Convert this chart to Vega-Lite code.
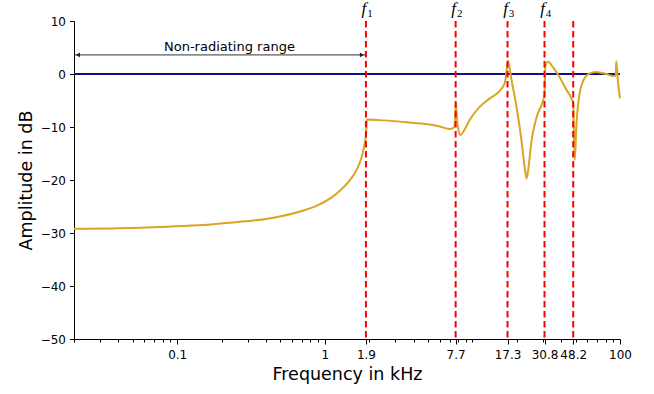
{
  "$schema": "https://vega.github.io/schema/vega-lite/v6.json",
  "autosize": {"type": "none"},
  "width": 546,
  "height": 318,
  "padding": {"left": 74, "top": 21, "right": 34, "bottom": 55},
  "background": "white",
  "config": {
    "view": {"stroke": null},
    "font": "DejaVu Sans",
    "axis": {"grid": false, "domainColor": "black", "tickColor": "black", "labelColor": "black", "titleColor": "black", "labelFont": "DejaVu Sans", "titleFont": "DejaVu Sans", "titleFontWeight": "normal", "labelFontSize": 12, "titleFontSize": 17.5}
  },
  "datasets": {
    "one": [{}],
    "curve": [
      {"f": 0.02, "amp": -29.2},
      {"f": 0.04, "amp": -29.1},
      {"f": 0.086, "amp": -28.8},
      {"f": 0.15, "amp": -28.5},
      {"f": 0.24, "amp": -28.0},
      {"f": 0.41, "amp": -27.3},
      {"f": 0.69, "amp": -25.9},
      {"f": 0.89, "amp": -24.8},
      {"f": 1.15, "amp": -23.0},
      {"f": 1.42, "amp": -20.6},
      {"f": 1.65, "amp": -18.0},
      {"f": 1.78, "amp": -15.6},
      {"f": 1.86, "amp": -13.2},
      {"f": 1.91, "amp": -10.8},
      {"f": 1.93, "amp": -8.6},
      {"f": 2.5, "amp": -8.75},
      {"f": 3.6, "amp": -9.1},
      {"f": 5.0, "amp": -9.5},
      {"f": 6.0, "amp": -9.9},
      {"f": 7.06, "amp": -10.4},
      {"f": 7.5, "amp": -10.1},
      {"f": 7.65, "amp": -8.0},
      {"f": 7.72, "amp": -5.4},
      {"f": 7.85, "amp": -8.0},
      {"f": 8.05, "amp": -10.6},
      {"f": 8.33, "amp": -11.5},
      {"f": 8.8, "amp": -10.6},
      {"f": 9.63, "amp": -8.6},
      {"f": 11.2, "amp": -6.2},
      {"f": 13.1, "amp": -4.6},
      {"f": 15.4, "amp": -3.1},
      {"f": 16.6, "amp": -1.6},
      {"f": 17.0, "amp": 0.2},
      {"f": 17.4, "amp": 2.5},
      {"f": 18.4, "amp": -1.1},
      {"f": 19.9, "amp": -6.2},
      {"f": 21.5, "amp": -12.5},
      {"f": 22.6, "amp": -17.6},
      {"f": 23.3, "amp": -19.7},
      {"f": 24.0, "amp": -17.6},
      {"f": 25.1, "amp": -12.8},
      {"f": 27.2, "amp": -8.2},
      {"f": 30.1, "amp": -5.0},
      {"f": 30.8, "amp": -3.8},
      {"f": 31.2, "amp": 1.3},
      {"f": 32.5, "amp": 2.3},
      {"f": 35.5, "amp": 1.1},
      {"f": 39.0, "amp": -0.6},
      {"f": 43.0, "amp": -2.8},
      {"f": 46.8, "amp": -4.6},
      {"f": 48.2, "amp": -5.6},
      {"f": 48.8, "amp": -12.0},
      {"f": 49.4, "amp": -16.2},
      {"f": 50.6, "amp": -9.9},
      {"f": 53.3, "amp": -3.6},
      {"f": 56.1, "amp": -1.4},
      {"f": 62.2, "amp": 0.1},
      {"f": 69.0, "amp": 0.4},
      {"f": 80.7, "amp": 0.0},
      {"f": 89.4, "amp": -0.4},
      {"f": 93.6, "amp": -0.3},
      {"f": 94.3, "amp": 2.4},
      {"f": 97.0, "amp": -1.5},
      {"f": 100, "amp": -4.6}
    ],
    "markers": [
      {"f": 1.9, "name": "f", "sub": "1"},
      {"f": 7.7, "name": "f", "sub": "2"},
      {"f": 17.3, "name": "f", "sub": "3"},
      {"f": 30.8, "name": "f", "sub": "4"},
      {"f": 48.2, "name": "", "sub": ""}
    ]
  },
  "layer": [
    {
      "data": {"name": "one"},
      "mark": {"type": "rule", "color": "#10108c", "strokeWidth": 2},
      "encoding": {"y": {"datum": 0, "type": "quantitative"}}
    },
    {
      "data": {"name": "curve"},
      "mark": {"type": "line", "color": "#DAA520", "strokeWidth": 2, "interpolate": "monotone"},
      "encoding": {
        "x": {
          "field": "f", "type": "quantitative",
          "scale": {"type": "log", "domain": [0.02, 100], "nice": false},
          "axis": {
            "title": "Frequency in kHz",
            "values": [0.02, 0.03, 0.04, 0.05, 0.06, 0.07, 0.08, 0.09, 0.1, 0.2, 0.3, 0.4, 0.5, 0.6, 0.7, 0.8, 0.9, 1, 1.9, 2, 3, 4, 5, 6, 7, 7.7, 8, 9, 10, 17.3, 20, 30, 30.8, 40, 48.2, 50, 60, 70, 80, 90, 100],
            "format": "~g",
            "labelExpr": "indexof([0.1, 1, 1.9, 7.7, 17.3, 30.8, 48.2, 100], datum.value) >= 0 ? datum.label : ''",
            "tickSize": {"condition": {"test": "indexof([0.1, 1, 1.9, 7.7, 17.3, 30.8, 48.2, 100], datum.value) >= 0", "value": 5}, "value": 3},
            "labelOverlap": false,
            "labelFlush": false,
            "labelPadding": 5,
            "titlePadding": 5
          }
        },
        "y": {
          "field": "amp", "type": "quantitative",
          "scale": {"domain": [-50, 10], "nice": false, "zero": false},
          "axis": {
            "title": "Amplitude in dB",
            "values": [-50, -40, -30, -20, -10, 0, 10],
            "tickSize": 4.5,
            "labelPadding": 4,
            "labelFlush": false,
            "titlePadding": 5
          }
        }
      }
    },
    {
      "data": {"name": "markers"},
      "mark": {"type": "rule", "color": "#ff0000", "strokeWidth": 2, "strokeDash": [6.5, 3.5]},
      "encoding": {"x": {"field": "f", "type": "quantitative"}}
    },
    {
      "data": {"name": "markers"},
      "mark": {"type": "text", "font": "Liberation Serif", "fontStyle": "italic", "fontSize": 17, "align": "center", "baseline": "alphabetic", "dx": -2, "dy": -7, "color": "black"},
      "encoding": {
        "x": {"field": "f", "type": "quantitative"},
        "y": {"datum": 10, "type": "quantitative"},
        "text": {"field": "name"}
      }
    },
    {
      "data": {"name": "markers"},
      "mark": {"type": "text", "font": "Liberation Serif", "fontSize": 11, "align": "center", "baseline": "alphabetic", "dx": 4, "dy": -4, "color": "black"},
      "encoding": {
        "x": {"field": "f", "type": "quantitative"},
        "y": {"datum": 10, "type": "quantitative"},
        "text": {"field": "sub"}
      }
    },
    {
      "data": {"name": "one"},
      "mark": {"type": "rule", "color": "#333333", "strokeWidth": 1},
      "encoding": {
        "x": {"datum": 0.02, "type": "quantitative"},
        "x2": {"datum": 1.9},
        "y": {"datum": 3.6, "type": "quantitative"}
      }
    },
    {
      "data": {"name": "one"},
      "mark": {"type": "point", "shape": "triangle-left", "filled": true, "color": "#222222", "size": 22, "xOffset": 4, "opacity": 1},
      "encoding": {
        "x": {"datum": 0.02, "type": "quantitative"},
        "y": {"datum": 3.6, "type": "quantitative"}
      }
    },
    {
      "data": {"name": "one"},
      "mark": {"type": "point", "shape": "triangle-right", "filled": true, "color": "#222222", "size": 22, "xOffset": -4, "opacity": 1},
      "encoding": {
        "x": {"datum": 1.9, "type": "quantitative"},
        "y": {"datum": 3.6, "type": "quantitative"}
      }
    },
    {
      "data": {"name": "one"},
      "mark": {"type": "text", "fontSize": 13, "font": "DejaVu Sans", "align": "center", "baseline": "alphabetic", "dy": -4, "color": "black"},
      "encoding": {
        "x": {"datum": 0.226, "type": "quantitative"},
        "y": {"datum": 3.6, "type": "quantitative"},
        "text": {"value": "Non-radiating range"}
      }
    }
  ]
}
